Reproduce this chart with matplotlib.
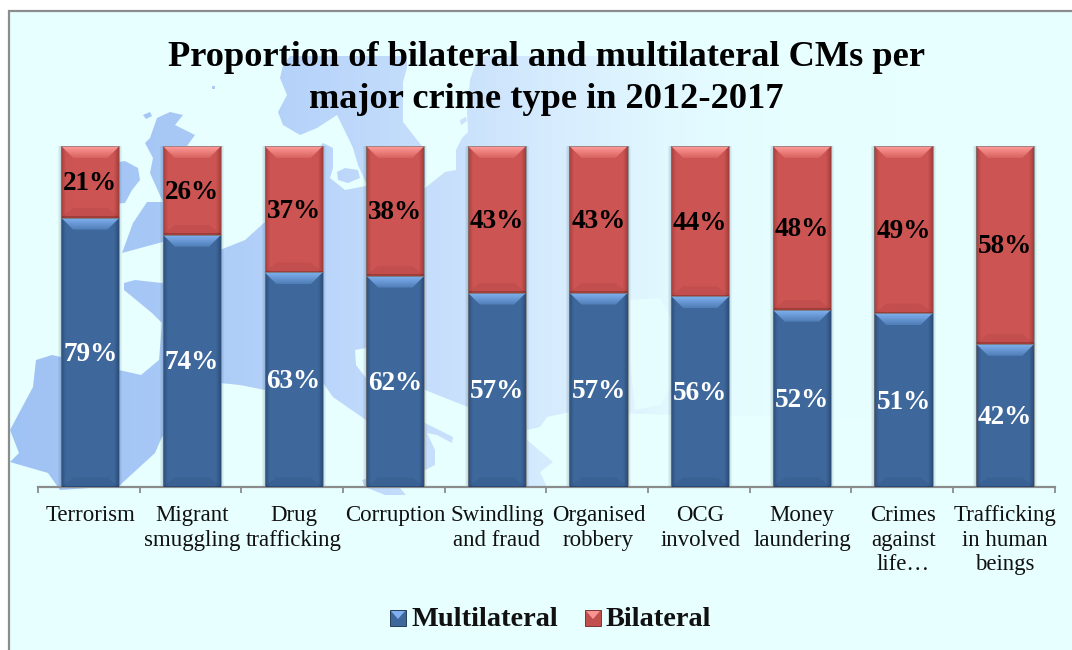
import matplotlib
matplotlib.use("Agg")
import matplotlib.pyplot as plt
import numpy as np
from matplotlib.colors import LinearSegmentedColormap
from matplotlib.patches import Polygon, Rectangle, PathPatch
from matplotlib.path import Path

plt.rcParams['font.family'] = ['Liberation Serif', 'DejaVu Serif']

# data
categories = ["Terrorism", "Migrant\nsmuggling", "Drug\ntrafficking", "Corruption",
              "Swindling\nand fraud", "Organised\nrobbery", "OCG\ninvolved",
              "Money\nlaundering", "Crimes\nagainst\nlife…", "Trafficking\nin human\nbeings"]
multilateral = [79, 74, 63, 62, 57, 57, 56, 52, 51, 42]
bilateral = [21, 26, 37, 38, 43, 43, 44, 48, 49, 58]

BG = '#E8FFFF'
GREY = '#8C8C8C'
W, H = 1072, 650

# map outlines, in figure pixels
continent = [(124, 283), (135, 280), (162, 283), (220, 250), (245, 240), (265, 222), (300, 170),
             (323, 143), (333, 148), (333, 168), (330, 178), (345, 190), (366, 186), (425, 188),
             (445, 172), (456, 170), (456, 150), (462, 138), (468, 132), (467, 112), (470, 80),
             (478, 56), (1000, 56), (1000, 420), (680, 415), (570, 412), (547, 417), (540, 427),
             (527, 430), (527, 440), (553, 462), (540, 472), (547, 487), (468, 487), (468, 407),
             (425, 390), (366, 348), (355, 350), (356, 365), (366, 378), (425, 423), (453, 437),
             (452, 443), (437, 435), (427, 433), (435, 450), (435, 465), (425, 470), (366, 420),
             (333, 397), (323, 383), (265, 390), (240, 385), (220, 383), (162, 437), (155, 453),
             (119, 486), (60, 490), (48, 473), (10, 462), (19, 453), (10, 430), (33, 387),
             (36, 360), (52, 355), (119, 370), (141, 375), (159, 360), (162, 323), (152, 313),
             (124, 290)]
ireland = [(100, 165), (125, 161), (138, 168), (140, 180), (132, 190), (125, 203), (100, 205)]
britain = [(157, 118), (170, 112), (183, 115), (175, 125), (195, 135), (187, 146), (210, 190),
           (220, 230), (170, 240), (122, 253), (133, 223), (147, 202), (163, 202), (150, 173),
           (153, 158), (145, 143), (150, 138)]
hebrides = [(143, 115), (150, 112), (152, 116), (146, 119)]
shetland = [(212, 86), (215, 86), (215, 89), (212, 89)]
scandinavia = [(283, 65), (290, 56), (407, 56), (407, 68), (403, 82), (403, 122), (425, 150),
               (425, 185), (367, 185), (358, 165), (353, 148), (342, 125), (337, 115), (317, 128),
               (300, 135), (283, 125), (278, 112), (287, 95), (280, 78)]
danish_isles = [(337, 172), (345, 168), (358, 170), (360, 178), (348, 183), (338, 180)]
gotland = [(460, 120), (466, 117), (467, 121), (461, 125)]
sicily = [(362, 480), (370, 478), (400, 488), (406, 495), (385, 495), (365, 487)]
black_sea = [(630, 300), (660, 298), (672, 320), (675, 380), (660, 405), (635, 410), (630, 360)]

fig = plt.figure(figsize=(W / 100, H / 100), dpi=100, facecolor='white')

# background layer
bg = fig.add_axes([0, 0, 1, 1], zorder=0)
bg.set_xlim(0, W)
bg.set_ylim(H, 0)
bg.axis('off')
bg.add_patch(Rectangle((8.5, 11), W, H, facecolor=BG, edgecolor=GREY, linewidth=1.6))

verts, codes = [], []
for shape in [continent, ireland, britain, hebrides, shetland, scandinavia, danish_isles, gotland, sicily]:
    verts += shape + [shape[0]]
    codes += [Path.MOVETO] + [Path.LINETO] * (len(shape) - 1) + [Path.CLOSEPOLY]
land_cmap = LinearSegmentedColormap.from_list(
    'land', [(0, '#9FC2F4'), (0.2, '#A8C9F6'), (0.34, '#B8D4FA'), (0.5, '#C8E0FC'),
             (0.63, '#D8EDFE'), (0.74, '#E1F8FF'), (0.87, '#E7FEFF'), (1, BG)])
land = bg.imshow(np.linspace(0, 1, 256).reshape(1, -1), cmap=land_cmap, aspect='auto',
                 extent=(0, 900, H, 0), zorder=1)
land.set_clip_path(PathPatch(Path(verts, codes), transform=bg.transData))
bg.add_patch(Polygon(black_sea, facecolor='#E6FDFF', edgecolor='none', zorder=2))
bg.set_xlim(0, W)
bg.set_ylim(H, 0)

# chart layer
ax = fig.add_axes([38 / W, 1 - 487 / H, 1016.5 / W, 341 / H], zorder=1)
ax.patch.set_alpha(0)
ax.set_xlim(0, 10)
ax.set_ylim(0, 100)
for side in ['top', 'left', 'right']:
    ax.spines[side].set_visible(False)
ax.spines['bottom'].set_color(GREY)
ax.spines['bottom'].set_linewidth(1.6)
ax.yaxis.set_visible(False)

PX_X = 10 / 1016.5
PX_Y = 100 / 341
positions = np.arange(10) + 0.515
bar_width = 0.573

blue_bars = ax.bar(positions, multilateral, bar_width, color='#3E689C', zorder=3)
red_bars = ax.bar(positions, bilateral, bar_width, bottom=multilateral, color='#CC5452', zorder=3)

ax.set_xticks(positions, categories, fontsize=16.5, color='#111111', linespacing=1.2)
ax.set_xticks(np.arange(11), minor=True)
ax.tick_params(axis='x', which='major', length=0, pad=13.2)
ax.tick_params(axis='x', which='minor', length=4.2, width=1.3, color=GREY)
for lab in ax.get_xticklabels():
    lab.set_verticalalignment('top')


def gradient(axes, x0, x1, y0, y1, top_color, bottom_color, clip_pts, zorder):
    cmap = LinearSegmentedColormap.from_list('g', [top_color, bottom_color])
    im = axes.imshow(np.linspace(0, 1, 32).reshape(-1, 1), cmap=cmap, aspect='auto',
                     extent=(x0, x1, y0, y1), origin='upper', zorder=zorder)
    im.set_clip_path(Polygon(clip_pts, transform=axes.transData))


def bevel(axes, x0, x1, y0, y1, px, py, top_a, top_b, side, inset=12, rim=5, zorder=3.1):
    # y1 is the visual top of the block, px and py are data units per pixel
    for i in range(rim):
        a = 0.42 * (1 - i / rim) ** 1.3
        axes.add_patch(Rectangle((x0 + i * px, y0), px, y1 - y0, facecolor=side, alpha=a,
                                 edgecolor='none', zorder=zorder))
        axes.add_patch(Rectangle((x1 - (i + 1) * px, y0), px, y1 - y0, facecolor=side, alpha=a,
                                 edgecolor='none', zorder=zorder))
    axes.add_patch(Polygon([(x0, y0), (x1, y0), (x1 - inset * px, y0 + inset * 0.8 * py),
                            (x0 + inset * px, y0 + inset * 0.8 * py)],
                           facecolor=side, alpha=0.1, edgecolor='none', zorder=zorder))
    axes.add_patch(Rectangle((x0, y0), x1 - x0, 1.5 * py, facecolor=side, alpha=0.4,
                             edgecolor='none', zorder=zorder))
    pts = [(x0, y1), (x1, y1), (x1 - inset * px, y1 - inset * py),
           (x0 + inset * px, y1 - inset * py)]
    gradient(axes, x0, x1, y1 - inset * py, y1, top_a, top_b, pts, zorder + 0.1)
    axes.plot([x0, x1, x1, x0, x0], [y0, y0, y1, y1, y0], color='#7A7A7A', lw=0.7, alpha=0.7,
              zorder=zorder + 0.2)


for bars, top_a, top_b, side in [(blue_bars, '#80B0F0', '#4F7DB6', '#152B4D'),
                                 (red_bars, '#FF9C9A', '#D8625F', '#6E2422')]:
    for bar in bars:
        x0, x1 = bar.get_x(), bar.get_x() + bar.get_width()
        y0, y1 = bar.get_y(), bar.get_y() + bar.get_height()
        bevel(ax, x0, x1, y0, y1, PX_X, PX_Y, top_a, top_b, side)
        # soft shadow round the block
        for i in range(1, 4):
            ax.add_patch(Rectangle((x0 - i * PX_X, y0), x1 - x0 + 2 * i * PX_X, y1 - y0,
                                   facecolor='#3A5A70', alpha=0.07, edgecolor='none', zorder=2))
ax.set_xlim(0, 10)
ax.set_ylim(0, 100)

blue_labels = ax.bar_label(blue_bars, labels=[f"{v}%" for v in multilateral], label_type='center',
                           color='white', fontsize=19.5, fontweight='bold', zorder=5)
red_labels = ax.bar_label(red_bars, labels=[f"{v}%" for v in bilateral], label_type='center',
                          color='black', fontsize=19.5, fontweight='bold', zorder=5)
for t in list(blue_labels) + list(red_labels):
    t.xyann = (0, -1.5)

# title
fig.text(546.5 / W, 1 - 57 / H, "Proportion of bilateral and multilateral CMs per", ha='center',
         va='center', fontsize=26.2, fontweight='bold', color='black')
fig.text(546.5 / W, 1 - 99 / H, "major crime type in 2012-2017", ha='center', va='center',
         fontsize=26.2, fontweight='bold', color='black')

# legend
lg = fig.add_axes([0, 0, 1, 1], zorder=2)
lg.set_xlim(0, W)
lg.set_ylim(H, 0)
lg.axis('off')
for sx, face, top_a, side, name, tx in [
        (390, '#3E689C', '#80B0F0', '#152B4D', "Multilateral", 411),
        (585, '#C04F4D', '#FA9492', '#6E2422', "Bilateral", 606)]:
    lg.add_patch(Rectangle((sx, 610), 16, 16, facecolor=face, edgecolor=side, linewidth=0.6, zorder=1))
    lg.add_patch(Polygon([(sx + 1, 611), (sx + 15, 611), (sx + 8, 619)], facecolor=top_a,
                         edgecolor='none', zorder=2))
    lg.text(tx, 619, name, ha='left', va='center', fontsize=20.4, fontweight='bold', color='#111111')

plt.savefig("out.png", dpi=100)
plt.close()
